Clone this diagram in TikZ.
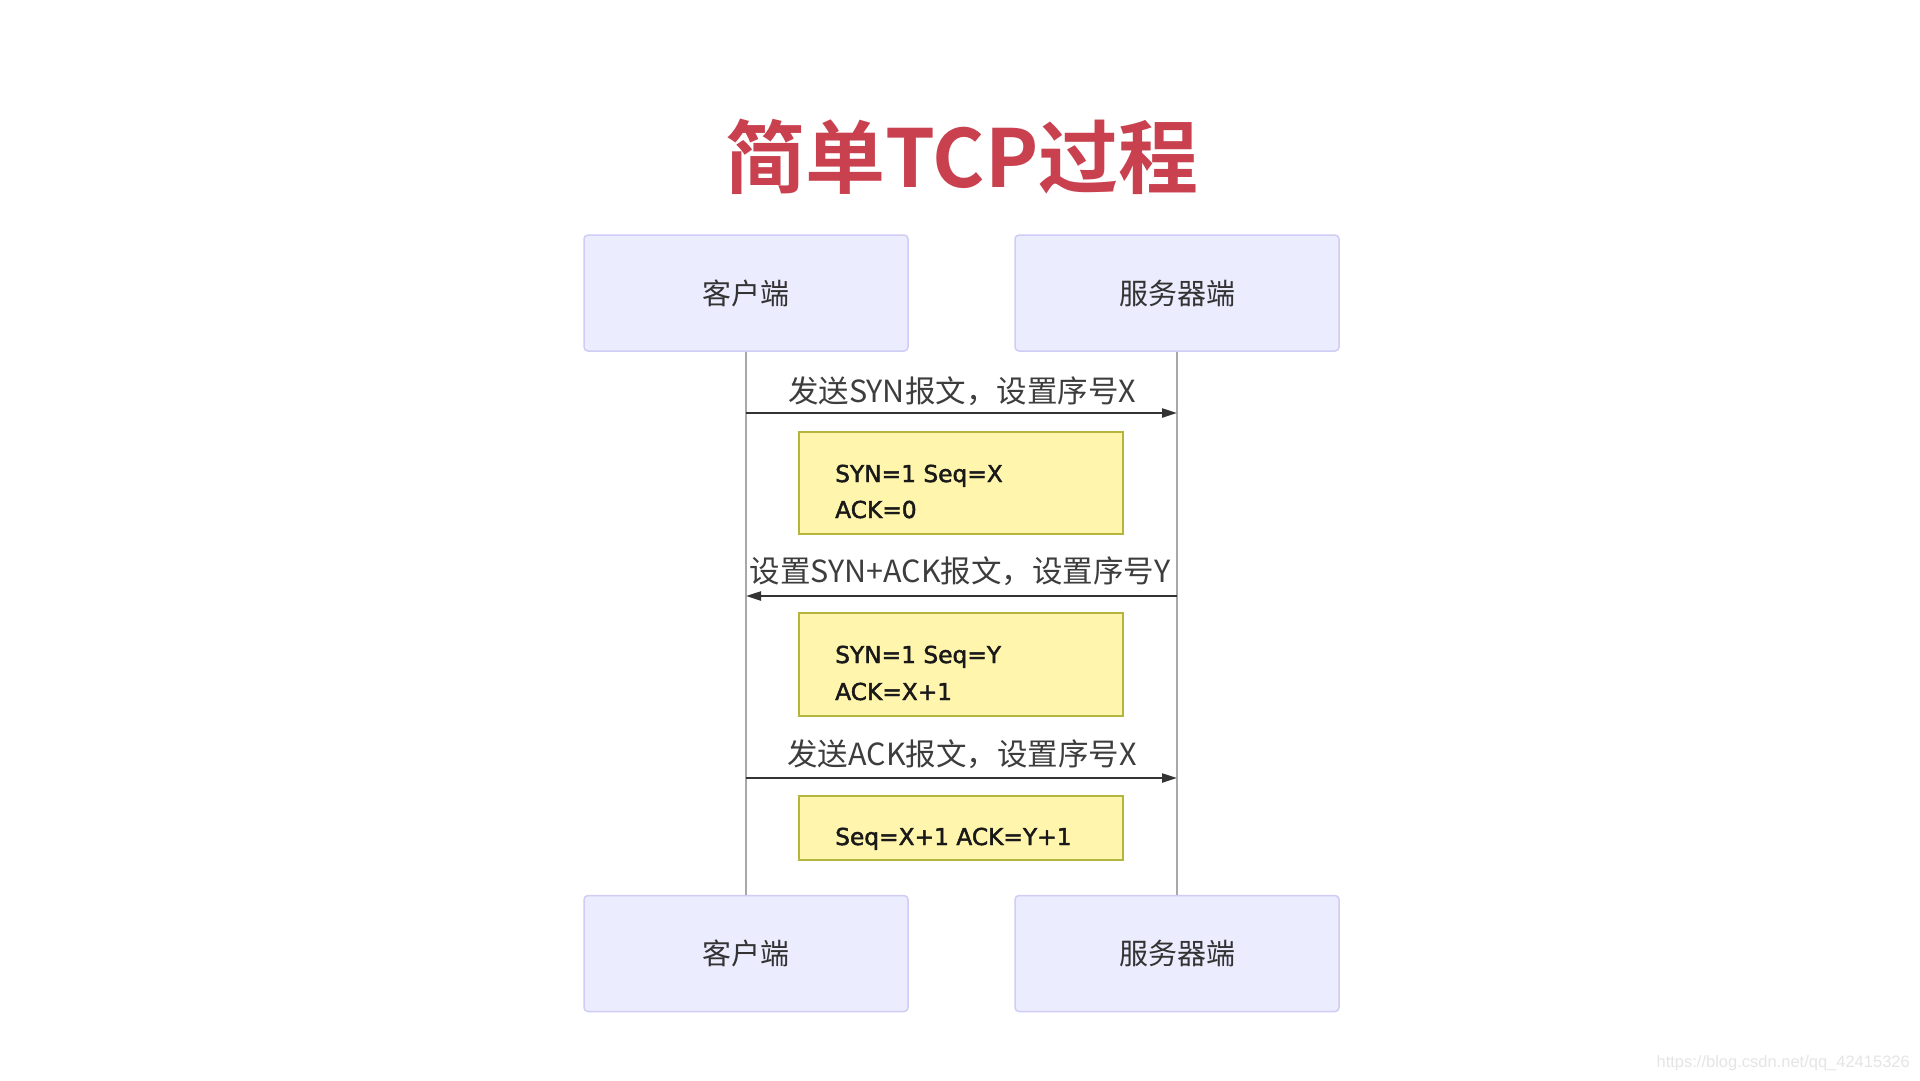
\documentclass[tikz,border=0pt]{standalone}
\usepackage{fontspec}
\setmainfont{Noto Sans CJK SC}[BoldFont={Noto Sans CJK SC Bold}]
\newfontfamily\notefont{DejaVu Sans}[FakeBold=2]
\newfontfamily\wmfont{Liberation Sans}
\usetikzlibrary{arrows.meta}
\definecolor{titlered}{HTML}{C9404F}
\definecolor{actorfill}{HTML}{ECECFF}
\definecolor{actorline}{HTML}{CFCCF5}
\definecolor{notefill}{HTML}{FFF5AD}
\definecolor{noteline}{HTML}{B5B43C}
\definecolor{lifegray}{HTML}{A8A8A8}
\definecolor{ink}{HTML}{333333}
\tikzset{
  actor/.style={draw=actorline, fill=actorfill, line width=1.5pt, rounded corners=4pt,
    minimum width=324pt, minimum height=116pt, inner sep=0pt,
    font=\fontsize{29}{34}\selectfont, text=ink},
  notebox/.style={draw=noteline, fill=notefill, line width=1.5pt,
    minimum width=324pt, inner sep=0pt},
  notetext/.style={font=\notefont\fontsize{23.3}{27}\selectfont, text=black!90, inner sep=0pt, anchor=base west},
  msglabel/.style={font=\fontsize{30.5}{36}\selectfont, text=ink!95, inner sep=0pt, anchor=base},
  life/.style={draw=lifegray, line width=1.5pt},
  msg/.style={draw=ink, line width=2.2pt, -{Triangle[length=15pt,width=9pt]}},
}
\begin{document}
\begin{tikzpicture}[x=1pt,y=-1pt]
\useasboundingbox[fill=white] (0,0) rectangle (1920,1080);

% title
\node[font=\bfseries\fontsize{80}{90}\selectfont, text=titlered, inner sep=0pt] (title) at (962,157) {简单TCP过程};

% actors
\node[actor] (topL) at (746,293) {客户端};
\node[actor] (topR) at (1177,293) {服务器端};
\node[actor] (botL) at (746,953.5) {客户端};
\node[actor] (botR) at (1177,953.5) {服务器端};

% lifelines
\draw[life] (topL) -- (botL);
\draw[life] (topR) -- (botR);

% message endpoints
\coordinate (m1s) at (746,413);
\coordinate (m1e) at (1177,413);
\coordinate (m2s) at (1177,596);
\coordinate (m2e) at (746,596);
\coordinate (m3s) at (746,778);
\coordinate (m3e) at (1177,778);

% messages
\draw[msg] (m1s) -- (m1e);
\node[msglabel] (l1) at (962,402) {发送SYN报文，设置序号X};
\draw[msg] (m2s) -- (m2e);
\node[msglabel] (l2) at (960,582) {设置SYN+ACK报文，设置序号Y};
\draw[msg] (m3s) -- (m3e);
\node[msglabel] (l3) at (962,765) {发送ACK报文，设置序号X};

% notes
\node[notebox, minimum height=102pt] (n1) at (961,483) {};
\node[notetext] (n1a) at (835,482) {SYN=1 Seq=X};
\node[notetext] (n1b) at (835,518) {ACK=0};

\node[notebox, minimum height=103pt] (n2) at (961,664.5) {};
\node[notetext] (n2a) at (835,663) {SYN=1 Seq=Y};
\node[notetext] (n2b) at (835,700) {ACK=X+1};

\node[notebox, minimum height=64pt] (n3) at (961,828) {};
\node[notetext] (n3a) at (835,845) {Seq=X+1 ACK=Y+1};

% watermark
\node[font=\wmfont\fontsize{16.5}{20}\selectfont, text=black!10, inner sep=0pt, anchor=base east] (wm) at (1910,1067) {https://blog.csdn.net/qq\_42415326};
\end{tikzpicture}
\end{document}
